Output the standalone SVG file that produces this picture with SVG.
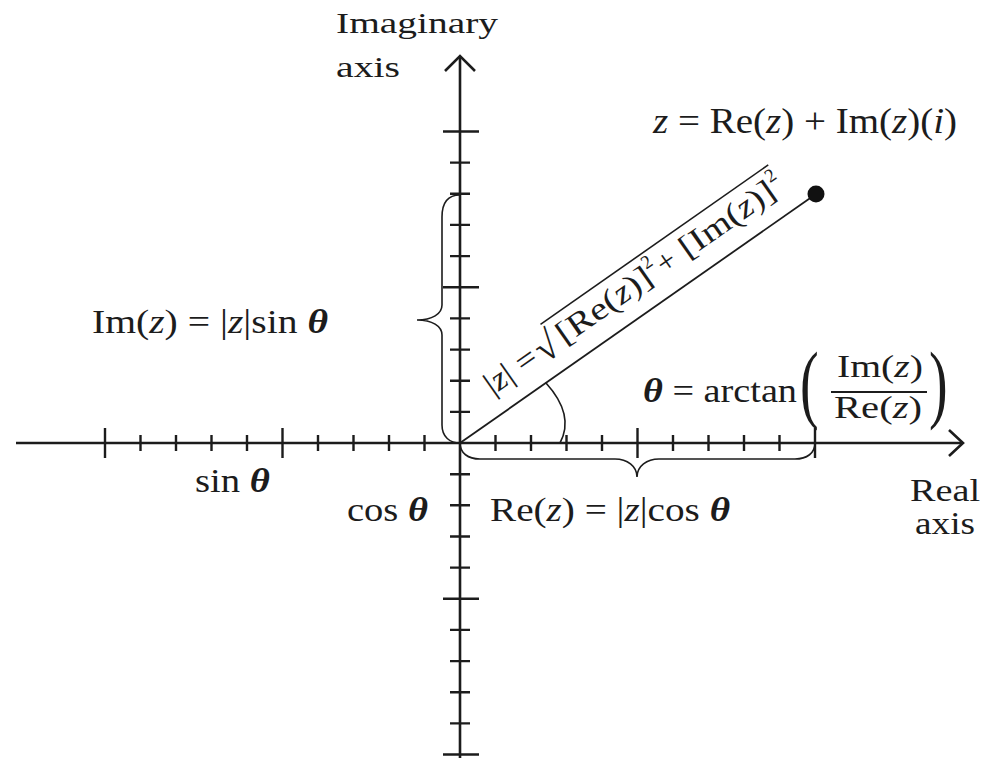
<svg xmlns="http://www.w3.org/2000/svg" width="985" height="758" viewBox="0 0 985 758">
<style>
.ax{stroke:#1c1c1c;stroke-width:2.6;fill:none;stroke-linecap:butt;stroke-linejoin:miter}
.tk{stroke:#1c1c1c;stroke-width:2.4;fill:none}
.br{stroke:#1c1c1c;stroke-width:1.6;fill:none;stroke-linecap:round}
text{font-family:'Liberation Serif','Times New Roman',Times,serif;fill:#1c1c1c}
.i{font-style:italic}
.th{font-style:italic;font-weight:bold}
</style>
<rect width="985" height="758" fill="#ffffff"/>
<g id="axes">
  <path class="ax" d="M16 443 H963"/>
  <path class="ax" d="M949 430 L963 443 L949 456"/>
  <path class="ax" d="M460 758 V56"/>
  <path class="ax" d="M445 71 L460 56 L475 71"/>
</g>
<g id="ticks">
  <path class="tk" d="M424.5 435V451M389 435V451M353.5 435V451M318 435V451M247 435V451M211.5 435V451M176 435V451M140.5 435V451M495.5 435V451M531 435V451M566.5 435V451M602 435V451M673 435V451M708.5 435V451M744 435V451M779.5 435V451"/>
  <path class="tk" d="M282.5 428V458M105 428V458M637.5 428V458M815 428V458"/>
  <path class="tk" d="M450 411.9H470M450 380.7H470M450 349.6H470M450 318.4H470M450 256.1H470M450 224.9H470M450 193.8H470M450 162.6H470M450 474.2H470M450 505.3H470M450 536.5H470M450 567.6H470M450 629.9H470M450 661.1H470M450 692.2H470M450 723.4H470"/>
  <path class="tk" d="M443 287.3H479M443 131.5H479M443 598.8H479M443 754.5H479"/>
</g>
<g id="connectors">
  <path id="vector" d="M460 443 L816 194" stroke="#1c1c1c" stroke-width="1.8"/>
  <circle id="point" cx="816" cy="194" r="8.5" fill="#111"/>
  <path id="angle-arc" class="br" d="M546 383 Q575 415 560 443"/>
  <path id="brace-im" class="br" d="M460 195 C448 195 442 203 442 217 L442 305 C442 314 432 320 417 320 C432 320 442 326 442 335 L442 425 C442 437 450 443 460 443"/>
  <path id="brace-re" class="br" d="M460 443 C460 453 468 459 480 459 L615 459 C627 459 637 466 637 477 C637 466 647 459 659 459 L795 459 C807 459 815 453 815 443"/>
</g>
<g id="label-imaginary-axis">
  <text x="336" y="33" font-size="30" textLength="162" lengthAdjust="spacingAndGlyphs">Imaginary</text>
  <text x="336" y="77" font-size="30" textLength="64" lengthAdjust="spacingAndGlyphs">axis</text>
</g>
<g id="label-real-axis">
  <text x="910" y="501" font-size="31" textLength="70" lengthAdjust="spacingAndGlyphs">Real</text>
  <text x="915" y="534" font-size="31" textLength="60" lengthAdjust="spacingAndGlyphs">axis</text>
</g>
<g id="label-z">
  <text x="653" y="133" font-size="35" textLength="304" lengthAdjust="spacingAndGlyphs"><tspan class="i">z</tspan> = Re(<tspan class="i">z</tspan>) + Im(<tspan class="i">z</tspan>)(<tspan class="i">i</tspan>)</text>
</g>
<g id="label-im">
  <text x="92" y="333" font-size="34" textLength="236" lengthAdjust="spacingAndGlyphs">Im(<tspan class="i">z</tspan>) = |<tspan class="i">z</tspan>|sin <tspan class="th">θ</tspan></text>
</g>
<g id="label-re">
  <text x="490" y="521" font-size="34" textLength="240" lengthAdjust="spacingAndGlyphs">Re(<tspan class="i">z</tspan>) = |<tspan class="i">z</tspan>|cos <tspan class="th">θ</tspan></text>
</g>
<g id="label-sin">
  <text x="195" y="492" font-size="34" textLength="75" lengthAdjust="spacingAndGlyphs">sin <tspan class="th">θ</tspan></text>
</g>
<g id="label-cos">
  <text x="347" y="521" font-size="34" textLength="81" lengthAdjust="spacingAndGlyphs">cos <tspan class="th">θ</tspan></text>
</g>
<g id="label-theta">
  <text x="643" y="402" font-size="34" textLength="154" lengthAdjust="spacingAndGlyphs"><tspan class="th">θ</tspan> = arctan</text>
  <text transform="translate(800 412) scale(1 1.55)" font-size="56">(</text>
  <text x="837" y="377" font-size="32" textLength="86" lengthAdjust="spacingAndGlyphs">Im(<tspan class="i">z</tspan>)</text>
  <line x1="831" y1="392" x2="927" y2="392" stroke="#1c1c1c" stroke-width="1.8"/>
  <text x="834" y="418" font-size="32" textLength="88" lengthAdjust="spacingAndGlyphs">Re(<tspan class="i">z</tspan>)</text>
  <text transform="translate(929 412) scale(1 1.55)" font-size="56">)</text>
</g>
<g id="label-modulus" transform="translate(460 443) rotate(-35)">
  <text x="54" y="-20" font-size="32" textLength="58" lengthAdjust="spacingAndGlyphs">|<tspan class="i">z</tspan>| =</text>
  <text x="115" y="-16" font-size="40">√</text>
  <line x1="134" y1="-51" x2="412" y2="-51" stroke="#1c1c1c" stroke-width="1.6"/>
  <text x="142" y="-20" font-size="32" textLength="110" lengthAdjust="spacingAndGlyphs">[Re(<tspan class="i">z</tspan>)]</text>
  <text x="252" y="-35" font-size="19">2</text>
  <text x="264" y="-20" font-size="32">+</text>
  <text x="292" y="-20" font-size="32" textLength="110" lengthAdjust="spacingAndGlyphs">[Im(<tspan class="i">z</tspan>)]</text>
  <text x="403" y="-35" font-size="19">2</text>
</g>
</svg>
